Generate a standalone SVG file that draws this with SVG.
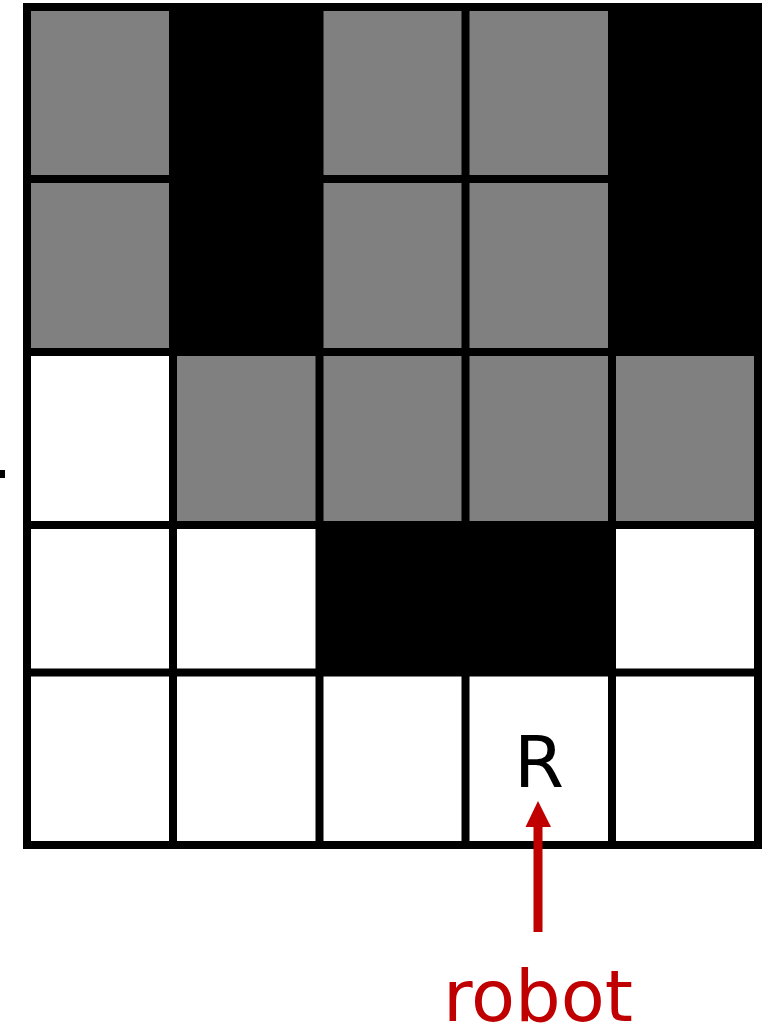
<svg xmlns="http://www.w3.org/2000/svg" width="771" height="1028" viewBox="0 0 771 1028">
<style>
.g{fill:#808080}
.k{fill:#000}
.w{fill:#fff}
.ln{stroke:#000;stroke-width:8;fill:none;stroke-linecap:square}
.lbl{font-family:"DejaVu Sans",Verdana,sans-serif;font-size:72px;text-anchor:middle}
</style>
<defs>
<marker id="ah" viewBox="0 0 10 10" refX="0" refY="5" markerWidth="10" markerHeight="10" markerUnits="userSpaceOnUse" orient="auto">
<path d="M0,0 L10,5 L0,10 Z" fill="#c00000"/>
</marker>
</defs>
<rect width="771" height="1028" fill="#fff"/>
<g id="cells">
<rect class="g" x="27" y="7" width="146" height="172"/>
<rect class="k" x="173" y="7" width="146.5" height="172"/>
<rect class="g" x="319.5" y="7" width="146" height="172"/>
<rect class="g" x="465.5" y="7" width="146.5" height="172"/>
<rect class="k" x="612" y="7" width="146" height="172"/>
<rect class="g" x="27" y="179" width="146" height="173"/>
<rect class="k" x="173" y="179" width="146.5" height="173"/>
<rect class="g" x="319.5" y="179" width="146" height="173"/>
<rect class="g" x="465.5" y="179" width="146.5" height="173"/>
<rect class="k" x="612" y="179" width="146" height="173"/>
<rect class="w" x="27" y="352" width="146" height="173"/>
<rect class="g" x="173" y="352" width="146.5" height="173"/>
<rect class="g" x="319.5" y="352" width="146" height="173"/>
<rect class="g" x="465.5" y="352" width="146.5" height="173"/>
<rect class="g" x="612" y="352" width="146" height="173"/>
<rect class="k" x="319.5" y="525" width="292.5" height="147.5"/>
</g>
<g id="grid">
<path class="ln" d="M27,7 V845 M173,7 V845 M319.5,7 V845 M465.5,7 V845 M612,7 V845 M758,7 V845"/>
<path class="ln" d="M27,7 H758 M27,179 H758 M27,352 H758 M27,525 H758 M27,672.5 H758 M27,845 H758"/>
</g>
<rect id="tick" x="0" y="470" width="5" height="8" fill="#000"/>
<g id="robot-cell">
<text class="lbl" x="539" y="787" fill="#000">R</text>
</g>
<g id="connectors">
<line x1="538" y1="932" x2="538" y2="826" stroke="#c00000" stroke-width="9" marker-end="url(#ah)"/>
<path d="M525.5,827 L538,801 L551,827 Z" fill="#c00000"/>
</g>
<g id="robot-label">
<text class="lbl" x="538" y="1021" fill="#c00000">robot</text>
</g>
</svg>
